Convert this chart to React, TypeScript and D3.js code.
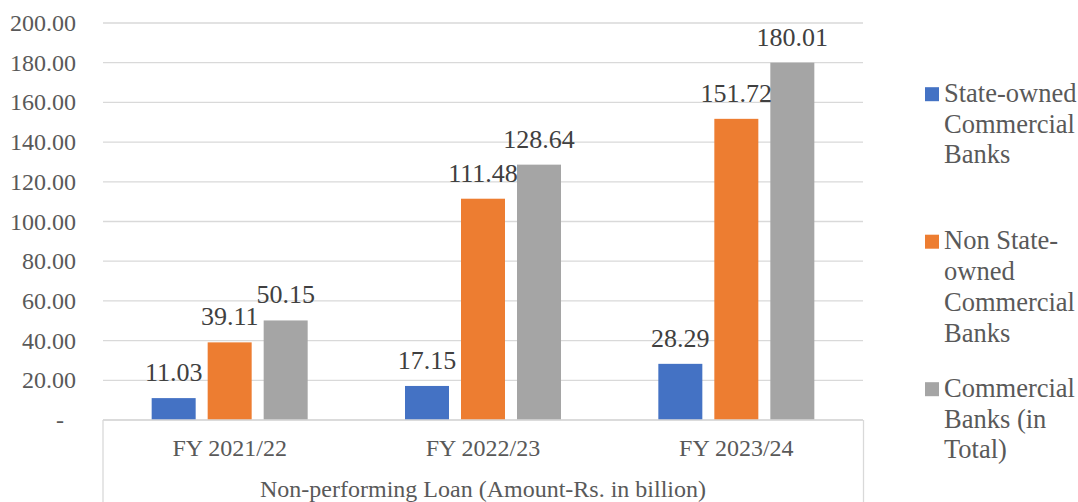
import React from "react";
import * as d3 from "d3";

const categories = ["FY 2021/22", "FY 2022/23", "FY 2023/24"];
const seriesNames = [
  "State-owned Commercial Banks",
  "Non State-owned Commercial Banks",
  "Commercial Banks (in Total)",
];
const stateOwned = [11.03, 17.15, 28.29];
const nonStateOwned = [39.11, 111.48, 151.72];
const totalBanks = [50.15, 128.64, 180.01];
const yTicks = [0, 20, 40, 60, 80, 100, 120, 140, 160, 180, 200];
const legendLines = [
  ["State-owned", "Commercial", "Banks"],
  ["Non State-", "owned", "Commercial", "Banks"],
  ["Commercial", "Banks (in", "Total)"],
];
const axisTitle = "Non-performing Loan (Amount-Rs. in billion)";
const colors = ["#4472C4", "#ED7D31", "#A5A5A5"];

const W = 1078;
const H = 502;
const plotLeft = 103;
const plotRight = 863;
const yTop = 23;
const yBottom = 420;
const FONT = "'Liberation Serif', 'Times New Roman', serif";

export default function App() {
  const seriesValues = [stateOwned, nonStateOwned, totalBanks];
  const x = d3.scaleBand<string>().domain(categories).range([plotLeft, plotRight]).padding(0);
  const groupW = 156;
  const off = (x.bandwidth() - groupW) / 2;
  const xi = d3
    .scaleBand<string>()
    .domain(seriesNames)
    .range([off, off + groupW])
    .paddingInner(0.2143)
    .paddingOuter(0);
  const y = d3.scaleLinear().domain([0, 200]).range([yBottom, yTop]);

  const legendX = 925;
  const legendY0 = 101.7;
  const legendStep = 147.5;
  const lineH = 30.8;

  return (
    <div style={{ position: "absolute", left: 0, top: 0 }}>
      <svg width={W} height={H} style={{ display: "block", background: "#fff", fontFamily: FONT }}>
        {/* gridlines */}
        {yTicks.map((t) => (
          <line
            key={"g" + t}
            x1={plotLeft}
            x2={plotRight}
            y1={y(t)}
            y2={y(t)}
            stroke="#D9D9D9"
            strokeWidth={1.3}
          />
        ))}
        {/* y labels */}
        {yTicks.map((t) => (
          <text
            key={"yl" + t}
            x={t === 0 ? 64 : 76}
            y={y(t) + 8}
            textAnchor="end"
            style={{ fontFamily: FONT }}
            fontSize={24}
            fill="#595959"
          >
            {t === 0 ? "-" : d3.format(".2f")(t)}
          </text>
        ))}
        {/* bars */}
        {categories.map((c, ci) =>
          seriesNames.map((s, si) => {
            const v = seriesValues[si][ci];
            const bx = (x(c) as number) + (xi(s) as number);
            return (
              <rect
                key={c + s}
                x={bx}
                y={y(v)}
                width={xi.bandwidth()}
                height={y(0) - y(v)}
                fill={colors[si]}
              />
            );
          })
        )}
        {/* data labels */}
        {categories.map((c, ci) =>
          seriesNames.map((s, si) => {
            const v = seriesValues[si][ci];
            const cx = (x(c) as number) + (xi(s) as number) + xi.bandwidth() / 2;
            return (
              <text
                key={"dl" + c + s}
                x={cx}
                y={y(v) - 17}
                textAnchor="middle"
                style={{ fontFamily: FONT }}
                fontSize={26}
                fill="#404040"
              >
                {d3.format(".2f")(v)}
              </text>
            );
          })
        )}
        {/* category box */}
        <line x1={plotLeft} x2={plotRight} y1={yBottom} y2={yBottom} stroke="#D9D9D9" strokeWidth={1.3} />
        <line x1={plotLeft} x2={plotLeft} y1={yBottom} y2={H} stroke="#D9D9D9" strokeWidth={1.3} />
        <line x1={plotRight + 0.5} x2={plotRight + 0.5} y1={yBottom} y2={H} stroke="#D9D9D9" strokeWidth={1.3} />
        {categories.map((c) => (
          <text
            key={"cl" + c}
            x={(x(c) as number) + x.bandwidth() / 2}
            y={456}
            textAnchor="middle"
            style={{ fontFamily: FONT }}
            fontSize={24}
            fill="#595959"
          >
            {c}
          </text>
        ))}
        <text
          x={(plotLeft + plotRight) / 2}
          y={497}
          textAnchor="middle"
          style={{ fontFamily: FONT }}
          fontSize={24}
          fill="#595959"
        >
          {axisTitle}
        </text>
        {/* legend */}
        {legendLines.map((lines, i) => {
          const by = legendY0 + i * legendStep;
          return (
            <g key={"lg" + i}>
              <rect x={legendX} y={by - 14.5} width={14} height={14} fill={colors[i]} />
              {lines.map((ln, li) => (
                <text
                  key={li}
                  x={legendX + 19}
                  y={by + li * lineH}
                  style={{ fontFamily: FONT }}
                  fontSize={26.5}
                  fill="#595959"
                >
                  {ln}
                </text>
              ))}
            </g>
          );
        })}
      </svg>
    </div>
  );
}
